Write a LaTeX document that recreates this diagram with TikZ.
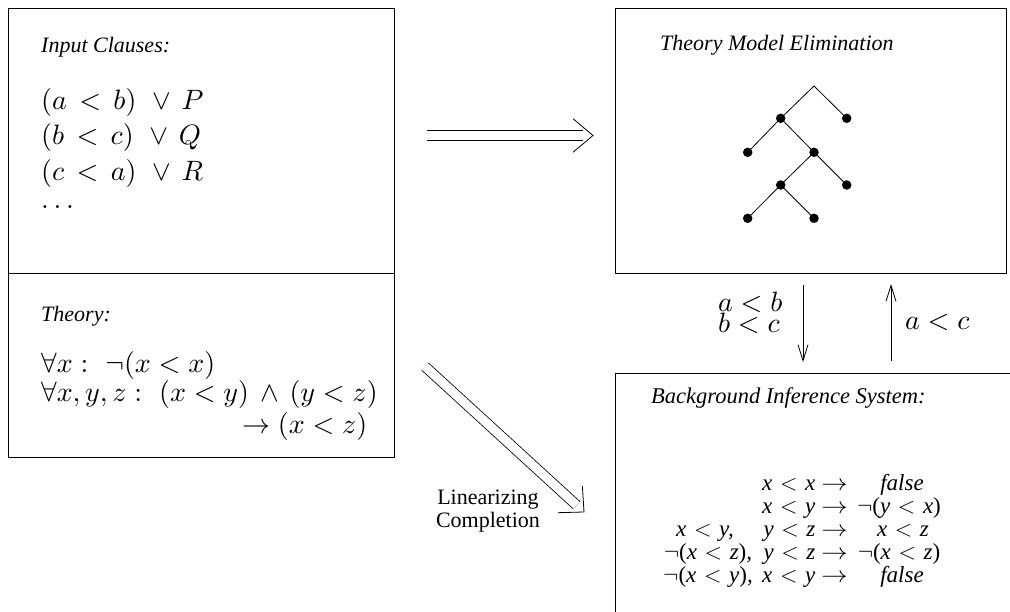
\RequirePackage{fix-cm}
\documentclass[tikz,border=0pt]{standalone}
\usepackage{fontspec}
\newfontfamily\tms{Liberation Serif}
\usetikzlibrary{calc,arrows.meta}
\newcommand\M[1]{\scalebox{2.8}{$#1$}}
\newcommand\lpu{{\upshape(}}
\newcommand\rpu{{\upshape)}}
\newcommand\ltr{\hspace{0.33em}$<$\hspace{0.33em}}
\newcommand\arw{\hspace{6pt}\scalebox{1.15}[1]{$\rightarrow$}}
\begin{document}
\begin{tikzpicture}[x=1pt,y=-1pt,
  box/.style={draw, line width=1pt, inner sep=0, anchor=north west},
  lbl/.style={font=\tms\itshape\fontsize{22}{26}\selectfont, anchor=base west, inner sep=0},
  mth/.style={font=\fontsize{10}{12}\selectfont, anchor=base west, inner sep=0},
  rl/.style={font=\tms\itshape\fontsize{23}{27}\selectfont, inner sep=0},
  plain/.style={font=\tms\fontsize{22}{26}\selectfont, anchor=base, inner sep=0},
  dot/.style={circle, fill, inner sep=0, minimum size=9.5pt},
  edge/.style={line width=0.8pt},
  dbl/.style={double, double distance=9pt, line width=0.8pt, shorten >=10pt},
  head/.style={line width=0.8pt},
  varr/.style={line width=0.8pt, -{Straight Barb[length=16pt,width=10pt]}}
]
\useasboundingbox (0,0) rectangle (1010,612);

% boxes
\node[box, minimum width=386pt, minimum height=265pt] (clauses) at (8,8) {};
\node[box, minimum width=386pt, minimum height=184pt] (theory) at (8,273) {};
\node[box, minimum width=391pt, minimum height=265pt] (tme) at (615,8) {};
\node[box, minimum width=420pt, minimum height=260pt] (bis) at (615,373) {};

% input clauses
\node[lbl] (icl) at (41,53) {Input Clauses:};
\node[mth] (c1) at (41,110) {\M{(a\,<\,b)\ \vee\,P}};
\node[mth] (c2) at (41,145) {\M{(b\,<\,c)\ \vee\,Q}};
\node[mth] (c3) at (41,181) {\M{(c\,<\,a)\ \vee\,R}};
\node[mth] (c4) at (41,209) {\M{\ldots}};

% theory
\node[lbl] (thl) at (41,322) {Theory:};
\node[mth] (t1) at (41,373) {\M{\forall x:\ \neg(x<x)}};
\node[mth] (t2) at (41,402) {\M{\forall x, y, z:\ (x<y)\,\wedge\,(y<z)}};
\node[mth] (t3) at (242,433) {\M{\rightarrow (x<z)}};

% theory model elimination
\node[lbl] (tmel) at (660,51) {Theory Model Elimination};
\coordinate (n0) at (814,86);
\node[dot] (n1) at (780.7,118.3) {};
\node[dot] (n2) at (846.7,118.3) {};
\node[dot] (n3) at (747.7,152.3) {};
\node[dot] (n4) at (814,152.3) {};
\node[dot] (n5) at (780.7,185) {};
\node[dot] (n6) at (846.7,185) {};
\node[dot] (n7) at (747.7,218.3) {};
\node[dot] (n8) at (814,218.3) {};
\draw[edge] (n1.center) -- (n0) -- (n2.center);
\draw[edge] (n3.center) -- (n1.center) -- (n4.center);
\draw[edge] (n5.center) -- (n4.center) -- (n6.center);
\draw[edge] (n7.center) -- (n5.center) -- (n8.center);

% background inference system
\node[lbl, font=\tms\itshape\fontsize{22.5}{26}\selectfont] (bisl) at (651,404) {Background Inference System:};
\node[rl, anchor=base east] (r1b) at (848,490) {x\ltr x\arw};
\node[rl, anchor=base] (r1c) at (902,490) {false};
\node[rl, anchor=base east] (r2b) at (848,513) {x\ltr y\arw};
\node[rl, anchor=base] (r2c) at (899,513) {$\neg$\lpu y\ltr x\rpu};
\node[rl, anchor=base] (r3a) at (705,536) {x\ltr y,};
\node[rl, anchor=base east] (r3b) at (848,536) {y\ltr z\arw};
\node[rl, anchor=base] (r3c) at (903,536) {x\ltr z};
\node[rl, anchor=base] (r4a) at (708,559) {$\neg$\lpu x\ltr z\rpu,};
\node[rl, anchor=base east] (r4b) at (848,559) {y\ltr z\arw};
\node[rl, anchor=base] (r4c) at (899,559) {$\neg$\lpu x\ltr z\rpu};
\node[rl, anchor=base] (r5a) at (708,582) {$\neg$\lpu x\ltr y\rpu,};
\node[rl, anchor=base east] (r5b) at (848,582) {x\ltr y\arw};
\node[rl, anchor=base] (r5c) at (902,582) {false};

% top double arrow
\coordinate (a1s) at (427,135.5);
\coordinate (a1e) at (593,135.5);
\draw[dbl] (a1s) -- (a1e);
\draw[head] ($(a1e)!26pt!40:(a1s)$) -- (a1e) -- ($(a1e)!26pt!-40:(a1s)$);

% diagonal double arrow
\coordinate (a2s) at (425,366.5);
\coordinate (a2e) at (584,512);
\draw[dbl] (a2s) -- (a2e);
\draw[head] ($(a2e)!26pt!44:(a2s)$) -- (a2e) -- ($(a2e)!26pt!-44:(a2s)$);
\node[plain] (lin1) at (488,504) {Linearizing};
\node[plain] (lin2) at (488,527) {Completion};

% vertical arrows
\coordinate (v1s) at (803,285);
\coordinate (v1e) at (803,362);
\coordinate (v2s) at (891,361);
\coordinate (v2e) at (891,284);
\draw[varr] (v1s) -- (v1e);
\draw[varr] (v2s) -- (v2e);
\node[mth] (ab) at (718,312) {\M{a<b}};
\node[mth] (bc) at (718,333) {\M{b<c}};
\node[mth] (ac) at (905,330) {\M{a<c}};
\end{tikzpicture}
\end{document}
